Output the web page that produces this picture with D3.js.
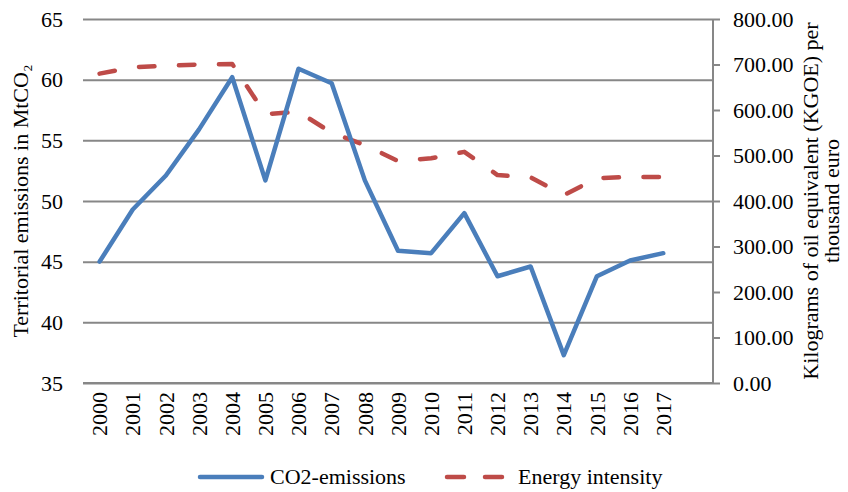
<!DOCTYPE html>
<html>
<head>
<meta charset="utf-8">
<script src="https://cdn.jsdelivr.net/npm/d3@7"></script>
<style>
  html, body { margin: 0; padding: 0; background: #fff; }
  svg { display: block; }
</style>
</head>
<body>
<svg id="chart" width="848" height="492"></svg>
<script>
// ---- data ----
const years = ["2000","2001","2002","2003","2004","2005","2006","2007","2008","2009","2010","2011","2012","2013","2014","2015","2016","2017"];
const co2Emissions = [45.0, 49.3, 52.1, 55.9, 60.2, 51.7, 60.9, 59.7, 51.7, 45.9, 45.7, 49.0, 43.8, 44.6, 37.3, 43.8, 45.1, 45.7];
const energyIntensity = [680, 694, 697, 700, 701, 591, 596, 550, 523, 488, 494, 508, 457, 452, 413, 450, 453, 453];
const leftTicks = [35, 40, 45, 50, 55, 60, 65];
const rightTicks = [0, 100, 200, 300, 400, 500, 600, 700, 800];
const seriesNames = ["CO2-emissions", "Energy intensity"];
const slotCount = 19; // 18 years plus one empty slot at the end

// ---- layout ----
const svg = d3.select("#chart");
const L = 83, R = 713, T = 19, B = 383;
const FS = 22;
const FONT = "'Liberation Serif', 'Times New Roman', Tinos, serif";
const gridColor = "#878787";
const blue = "#4a7ebb", red = "#be4b48";

const x = d3.scaleBand().domain(d3.range(slotCount)).range([L, R]);
const yL = d3.scaleLinear().domain([35, 65]).range([B, T]);
const yR = d3.scaleLinear().domain([0, 800]).range([B, T]);
const cx = i => x(i) + x.bandwidth() / 2;

// left axis with gridlines
const gLeft = svg.append("g").attr("transform", `translate(${L},0)`)
  .call(d3.axisLeft(yL).tickValues(leftTicks).tickSize(-(R - L)).tickPadding(20).tickFormat(d3.format("d")));
gLeft.select(".domain").remove();
gLeft.selectAll(".tick line").attr("stroke", gridColor).attr("stroke-width", 2);

// right axis
const gRight = svg.append("g").attr("transform", `translate(${R},0)`)
  .call(d3.axisRight(yR).tickValues(rightTicks).tickSize(7).tickPadding(13).tickFormat(d => d.toFixed(2)));
gRight.select(".domain").attr("stroke", gridColor).attr("stroke-width", 2)
  .attr("d", `M0,${T}V${B}`);
gRight.selectAll(".tick line").attr("stroke", gridColor).attr("stroke-width", 2);

// x axis
const gX = svg.append("g").attr("transform", `translate(0,${B})`)
  .call(d3.axisBottom(x).tickSize(0).tickFormat(i => years[i] || ""));
gX.select(".domain").attr("stroke", gridColor).attr("stroke-width", 2).attr("d", `M${L},0H${R}`);
gX.selectAll(".tick text")
  .attr("text-anchor", "end")
  .attr("transform", "rotate(-90)")
  .attr("x", -9).attr("y", 0).attr("dy", "0.35em");

[gLeft, gRight, gX].forEach(g => g.attr("font-family", null).attr("font-size", null));

// lines
const lineL = d3.line().x((d, i) => cx(i)).y(d => yL(d));
const lineR = d3.line().x((d, i) => cx(i)).y(d => yR(d));

svg.append("path").datum(energyIntensity)
  .attr("d", lineR).attr("fill", "none").attr("stroke", red)
  .attr("stroke-width", 4.5).attr("stroke-dasharray", "15.5,24.5")
  .attr("stroke-linecap", "round").attr("stroke-linejoin", "round");

svg.append("path").datum(co2Emissions)
  .attr("d", lineL).attr("fill", "none").attr("stroke", blue)
  .attr("stroke-width", 4.5).attr("stroke-linecap", "round").attr("stroke-linejoin", "round");

// axis titles
svg.append("text")
  .attr("transform", `translate(28,${(T + B) / 2}) rotate(-90)`)
  .attr("text-anchor", "middle")
  .text("Territorial emissions in MtCO₂");

const rt = svg.append("text")
  .attr("transform", `translate(818,${(T + B) / 2}) rotate(-90)`)
  .attr("text-anchor", "middle");
rt.append("tspan").attr("x", 0).attr("dy", 0).text("Kilograms of oil equivalent (KGOE) per");
rt.append("tspan").attr("x", 0).attr("dy", 21).text("thousand euro");

// legend
const leg = svg.append("g");
leg.append("line").attr("x1", 200).attr("x2", 262).attr("y1", 477).attr("y2", 477)
  .attr("stroke", blue).attr("stroke-width", 4.5).attr("stroke-linecap", "round");
leg.append("text").attr("x", 270).attr("y", 484).text(seriesNames[0]);
leg.append("line").attr("x1", 447).attr("x2", 505).attr("y1", 477).attr("y2", 477)
  .attr("stroke", red).attr("stroke-width", 4.5).attr("stroke-linecap", "round")
  .attr("stroke-dasharray", "17,21");
leg.append("text").attr("x", 518).attr("y", 484).text(seriesNames[1]);

// uniform text styling
svg.selectAll("text")
  .style("font-family", FONT)
  .style("font-size", FS + "px")
  .style("fill", "#000");
</script>
</body>
</html>
